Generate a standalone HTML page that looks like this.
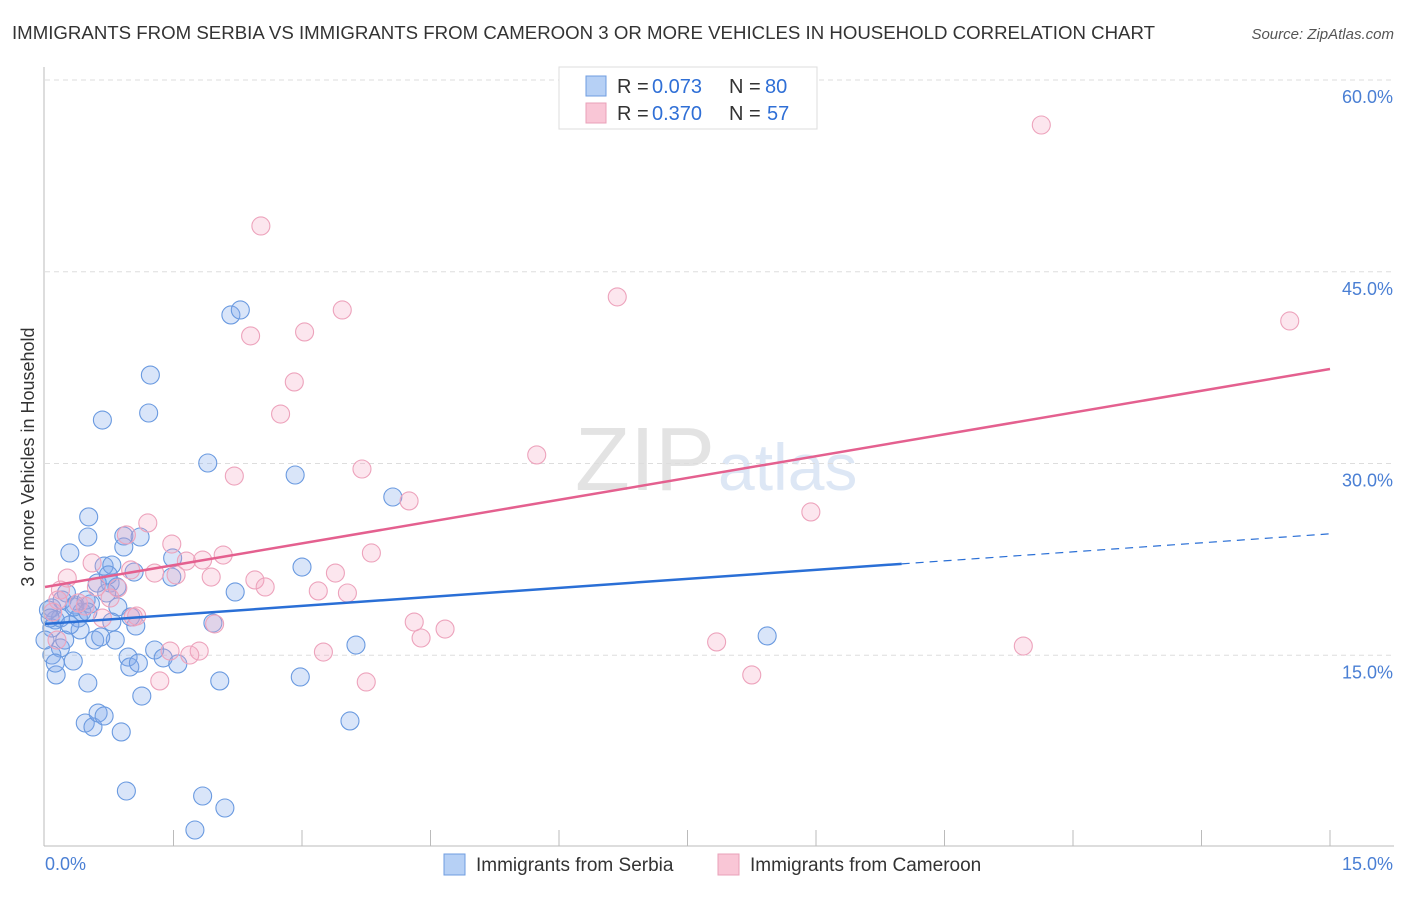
<!DOCTYPE html>
<html><head><meta charset="utf-8"><style>
body{margin:0;background:#fff;font-family:"Liberation Sans",sans-serif;}
svg text{font-family:"Liberation Sans",sans-serif;}
</style></head><body>
<svg width="1406" height="892" id="c">
<text x="12" y="39" font-size="18" fill="#333" textLength="1143" lengthAdjust="spacingAndGlyphs">IMMIGRANTS FROM SERBIA VS IMMIGRANTS FROM CAMEROON 3 OR MORE VEHICLES IN HOUSEHOLD CORRELATION CHART</text>
<text x="1394" y="39" font-size="15" fill="#555" font-style="italic" text-anchor="end">Source: ZipAtlas.com</text>
<text x="0" y="0" transform="translate(34,457) rotate(-90)" font-size="18" fill="#333" text-anchor="middle">3 or more Vehicles in Household</text>
<text x="715" y="490" font-size="90" fill="#e3e3e3" text-anchor="end" font-family="Liberation Serif">ZIP</text>
<text x="718" y="490" font-size="66" fill="#dde7f5">atlas</text>
<g id="grid"></g><g id="pts"></g><g id="lines"></g>
<line x1="44" y1="67" x2="44" y2="846" stroke="#bbb"/>
<line x1="44" y1="846" x2="1394" y2="846" stroke="#bbb"/>
<text x="45" y="870" font-size="18" fill="#4a7fd4">0.0%</text>
<text x="1393" y="870" font-size="18" fill="#4a7fd4" text-anchor="end">15.0%</text>
<g>
<rect x="559" y="67" width="258" height="62" fill="#fff" stroke="#ddd"/>
<rect x="586" y="76" width="20" height="20" fill="#b6d0f5" stroke="#6f9de0"/>
<rect x="586" y="103" width="20" height="20" fill="#f9c6d6" stroke="#e9a0b8"/>
<text y="93" font-size="20" fill="#333"><tspan x="617">R =</tspan><tspan x="652" fill="#2f6fd6">0.073</tspan><tspan x="729">N =</tspan><tspan x="765" fill="#2f6fd6">80</tspan></text>
<text y="120" font-size="20" fill="#333"><tspan x="617">R =</tspan><tspan x="652" fill="#2f6fd6">0.370</tspan><tspan x="729">N =</tspan><tspan x="767" fill="#2f6fd6">57</tspan></text>
</g>
<g>
<rect x="444" y="854" width="21" height="21" fill="#b6d0f5" stroke="#6f9de0"/>
<text x="476" y="871" font-size="19" fill="#333">Immigrants from Serbia</text>
<rect x="718" y="854" width="21" height="21" fill="#f9c6d6" stroke="#e9a0b8"/>
<text x="750" y="871" font-size="19" fill="#333">Immigrants from Cameroon</text>
</g>
</svg>
<script>
const yTicks=[15,30,45,60];
const xTickCount=10;
const serbiaX=[0.08,0.12,0.08,0.18,0.08,0.13,0.29,0.51,0.50,0.67,1.23,1.21,0.25,0.35,0.43,0.41,0.58,0.50,0.47,0.56,0.62,0.69,0.89,0.95,1.13,0.97,0.99,1.09,1.28,1.38,1.55,1.49,1.48,1.90,2.17,2.28,2.92,3.00,2.98,4.06,3.63,3.56,2.22,1.96,2.04,1.84,2.10,1.75,0.92,0.92,1.11,0.76,0.84,0.72,0.85,1.04,0.78,1.06,0.82,0.69,0.61,0.65,8.43,0.33,0.23,0.39,0.18,0.04,0.29,0.53,1.00,0.78,0.74,0.48,0.06,0.20,0.00,0.12,0.34,0.50];
const serbiaY=[18.70,17.76,17.13,15.57,15.02,13.46,23.00,25.82,24.25,33.40,36.92,33.95,19.87,18.93,18.38,16.98,16.19,12.83,9.70,9.39,10.48,10.25,9.00,4.38,11.81,14.86,14.08,14.39,15.41,14.79,14.32,22.61,21.12,30.04,41.62,42.01,29.10,21.90,13.30,27.38,15.80,9.86,19.95,17.52,12.99,3.99,3.05,1.33,24.33,23.47,24.25,20.65,20.34,19.87,18.78,21.51,17.60,17.29,16.19,21.98,20.65,16.43,16.51,14.55,16.19,17.91,17.91,18.54,17.37,19.01,18.00,22.06,21.28,19.32,17.91,19.32,16.19,14.39,18.78,18.38];
const cameroonX=[11.63,14.53,6.68,5.74,8.94,7.84,8.25,11.42,2.52,3.47,2.40,3.03,2.91,2.75,2.21,3.70,4.25,3.81,3.39,3.53,3.19,3.25,3.75,4.31,4.39,4.67,1.20,1.48,1.53,1.65,1.84,1.94,2.08,2.45,2.57,1.98,1.80,1.69,1.46,1.34,1.07,0.95,1.00,1.28,0.85,0.67,0.55,0.26,0.18,0.15,0.39,0.47,0.09,0.60,1.03,0.14,0.76];
const cameroonY=[56.48,41.15,43.03,30.67,26.21,16.04,13.46,15.72,48.58,42.01,39.98,40.29,36.38,33.87,29.02,29.57,27.07,23.00,21.43,19.87,20.03,15.25,12.91,17.60,16.35,17.05,25.35,23.70,21.28,22.37,22.45,21.12,22.84,20.89,20.34,17.45,15.33,15.02,15.33,12.99,18.07,24.41,21.67,21.43,20.26,17.91,22.22,21.04,20.10,19.32,19.09,18.85,18.38,20.34,17.99,16.19,19.48];
const serbiaTrend=[17.45,0.47];
const serbiaSolidEnd=[10];
const cameroonTrend=[20.34,1.137];
const NS='http://www.w3.org/2000/svg';
const X=v=>45+v/15*1285, Y=v=>847-v/60*767;
function mk(t,a,p){const e=document.createElementNS(NS,t);for(const k in a)e.setAttribute(k,a[k]);p.appendChild(e);return e;}
const grid=document.getElementById('grid');
yTicks.forEach(t=>{
 const l=mk('line',{x1:45,x2:1394,y1:Y(t),y2:Y(t),stroke:'#ddd','stroke-dasharray':'5,4'},grid);
 
 
 const tx=mk('text',{x:1393,y:Y(t)+23,'font-size':18,fill:'#4a7fd4','text-anchor':'end'},grid);
 tx.textContent=t.toFixed(1)+'%';
 
 
});
for(let i=1;i<=xTickCount;i++){
 const l=mk('line',{x1:X(i*1.5),x2:X(i*1.5),y1:830,y2:846,stroke:'#bbb'},grid);
 
 
}
const pts=document.getElementById('pts');
serbiaX.forEach((v,i)=>{
 const c=mk('circle',{cx:X(v),cy:Y(serbiaY[i]),r:9,fill:'rgba(130,170,235,0.3)',stroke:'#6a9ae0','stroke-width':1.1},pts);
 
 
});
cameroonX.forEach((v,i)=>{
 const c=mk('circle',{cx:X(v),cy:Y(cameroonY[i]),r:9,fill:'rgba(245,165,195,0.28)',stroke:'#eda3bc','stroke-width':1.1},pts);
 
 
});
const lines=document.getElementById('lines');
const sf=x=>serbiaTrend[0]+serbiaTrend[1]*x, cf=x=>cameroonTrend[0]+cameroonTrend[1]*x;
const e=serbiaSolidEnd[0];
const l1=mk('line',{x1:X(0),y1:Y(sf(0)),x2:X(e),y2:Y(sf(e)),stroke:'#2a6fd6','stroke-width':2.5},lines);


const l2=mk('line',{x1:X(e),y1:Y(sf(e)),x2:X(15),y2:Y(sf(15)),stroke:'#2a6fd6','stroke-width':1.2,'stroke-dasharray':'8,6'},lines);


const l3=mk('line',{x1:X(0),y1:Y(cf(0)),x2:X(15),y2:Y(cf(15)),stroke:'#e4608f','stroke-width':2.5},lines);


</script>
</body></html>
